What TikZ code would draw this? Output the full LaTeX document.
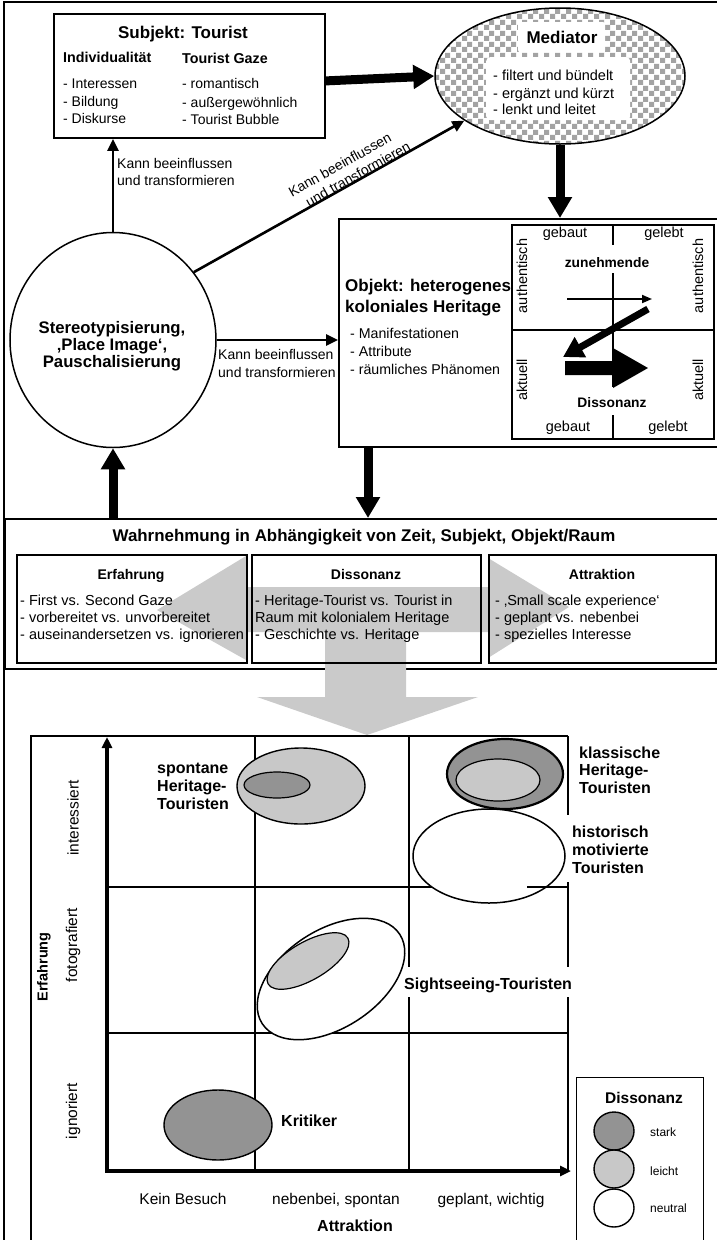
\documentclass[tikz,border=0pt]{standalone}
\usepackage{fontspec}
\setmainfont{Liberation Sans}
\usetikzlibrary{arrows.meta,shapes.geometric,patterns}
\newcommand\setfs[1]{\fontsize{#1}{#1}\selectfont}
\definecolor{darkfill}{HTML}{939393}
\definecolor{lightfill}{HTML}{C8C8C8}
\definecolor{flowgray}{HTML}{CACACA}
\definecolor{checkgray}{HTML}{A3A3A3}
% checkerboard fill for the mediator
\pgfdeclarepatternformonly{checker}{\pgfpointorigin}{\pgfpoint{11pt}{11pt}}{\pgfpoint{11pt}{11pt}}{%
  \pgfpathrectangle{\pgfpointorigin}{\pgfpoint{5.5pt}{5.5pt}}%
  \pgfpathrectangle{\pgfpoint{5.5pt}{5.5pt}}{\pgfpoint{5.5pt}{5.5pt}}%
  \pgfusepath{fill}}
\begin{document}
\begin{tikzpicture}[x=1pt,y=-1pt,
  frame/.style={line width=1.6pt},
  box/.style={draw,line width=1.8pt,anchor=north west,inner sep=0pt},
  bigarrow/.style={line width=9pt,-{Triangle[width=23pt,length=21pt]}},
  thinarrow/.style={line width=2.6pt,-{Triangle[width=11pt,length=12pt]}},
  axis/.style={line width=3.5pt,-{Triangle[width=10pt,length=11pt]}},
  gridline/.style={line width=1.3pt},
  txt/.style={inner sep=0pt,anchor=base west,font=\setfs{14}},
  ctxt/.style={inner sep=0pt,anchor=base,font=\setfs{14}},
  fsb/.style={font=\setfs{#1}\bfseries},
  fsr/.style={font=\setfs{#1}},
  blob/.style={ellipse,draw,inner sep=0pt,line width=1.4pt}
]
\useasboundingbox (0,0) rectangle (717,1240);
\clip (0,0) rectangle (717,1240);

% outer frame
\draw[frame] (4,2) rectangle (725,1250);

% ---------- subject ----------
\node[box,minimum width=271pt,minimum height=124pt] (subj) at (53,13) {};
\node[ctxt,fsb=17] (subjT) at (183,38) {Subjekt: Tourist};
\node[txt,fsb=14.3] (indT) at (63,62) {Individualität};
\node[txt,fsb=14.3] (gazeT) at (182,63) {Tourist Gaze};
\node[txt] (ind1) at (63,88) {- Interessen};
\node[txt] (ind2) at (63,106) {- Bildung};
\node[txt] (ind3) at (63,123) {- Diskurse};
\node[txt] (gaze1) at (182,88) {- romantisch};
\node[txt] (gaze2) at (182,107) {- außergewöhnlich};
\node[txt] (gaze3) at (182,124) {- Tourist Bubble};

% ---------- mediator ----------
\node[ellipse,draw,line width=1.5pt,minimum width=250pt,minimum height=136pt,inner sep=0pt,
      preaction={fill=white},pattern=checker,pattern color=checkgray] (med) at (560,76) {};
\node[fill=white,rounded corners=2pt,anchor=north west,minimum width=87pt,minimum height=30pt,inner sep=0pt] (medpatchA) at (518,22) {};
\node[fill=white,rounded corners=4pt,anchor=north west,minimum width=144pt,minimum height=63pt,inner sep=0pt] (medpatchB) at (486,57) {};
\node[ctxt,fsb=17] (medT) at (562,43) {Mediator};
\node[txt,fsr=14.5] (med1) at (493,80) {- filtert und bündelt};
\node[txt,fsr=14.5] (med2) at (493,98) {- ergänzt und kürzt};
\node[txt,fsr=14.5] (med3) at (493,114) {- lenkt und leitet};

% ---------- place image ----------
\node[ellipse,draw,line width=1.5pt,minimum width=206pt,minimum height=215pt,inner sep=0pt] (img) at (113,340) {};
\node[ctxt,fsb=16.7] (img1) at (112,333) {Stereotypisierung,};
\node[ctxt,fsb=16.7] (img2) at (112,350) {‚Place Image‘,};
\node[ctxt,fsb=16.7] (img3) at (112,367) {Pauschalisierung};

% ---------- object ----------
\node[box,minimum width=385pt,minimum height=228pt] (obj) at (338,218) {};
\node[txt,fsb=17] (objT1) at (345,291) {Objekt: heterogenes};
\node[txt,fsb=17] (objT2) at (345,312) {koloniales Heritage};
\node[txt,fsr=14.2] (obj1) at (350,338) {- Manifestationen};
\node[txt,fsr=14.2] (obj2) at (350,356) {- Attribute};
\node[txt,fsr=14.2] (obj3) at (350,374) {- räumliches Phänomen};

% quadrant scheme inside the object
\node[draw,line width=1.5pt,anchor=north west,minimum width=202pt,minimum height=214pt,inner sep=0pt] (quad) at (511,224) {};
\draw[line width=1.5pt] (511,330) -- (713,330);
\draw[line width=1.5pt] (613,224) -- (613,245) (613,273) -- (613,387) (613,415) -- (613,438);
\node[ctxt,fsr=14.5] (qgb1) at (565,237) {gebaut};
\node[ctxt,fsr=14.5] (qgl1) at (664,237) {gelebt};
\node[ctxt,fsr=14.5] (qgb2) at (568,431) {gebaut};
\node[ctxt,fsr=14.5] (qgl2) at (668,431) {gelebt};
\node[inner sep=0pt,fsr=14.5,rotate=90] (qau1) at (522,276) {authentisch};
\node[inner sep=0pt,fsr=14.5,rotate=90] (qau2) at (698,276) {authentisch};
\node[inner sep=0pt,fsr=14.5,rotate=90] (qak1) at (522,380) {aktuell};
\node[inner sep=0pt,fsr=14.5,rotate=90] (qak2) at (698,380) {aktuell};
\node[ctxt,fsb=13.8] (qzu) at (607,267) {zunehmende};
\node[ctxt,fsb=13.8] (qdi) at (612,407) {Dissonanz};
\coordinate (qa1s) at (567,299);
\coordinate (qa1e) at (652,299);
\draw[line width=1.8pt,-{Triangle[width=8pt,length=10pt]}] (qa1s) -- (qa1e);
\coordinate (qa2s) at (648,309);
\coordinate (qa2e) at (563,357);
\draw[line width=7pt,-{Triangle[width=22pt,length=20pt]}] (qa2s) -- (qa2e);
\fill (565,361) -- (613,361) -- (613,348) -- (648,368) -- (613,388) -- (613,375) -- (565,375) -- cycle;

% ---------- connectors of the upper part ----------
\draw[bigarrow] ([yshift=-5pt]subj.east) -- (med.west);
\draw[bigarrow] (med.south) -- (med.south |- obj.north);
\draw[thinarrow] (img.north) -- (img.north |- subj.south);
\node[txt] (lblA1) at (117,168) {Kann beeinflussen};
\node[txt] (lblA2) at (117,185) {und transformieren};
\draw[thinarrow] (img.east) -- (img.east -| obj.west);
\node[txt] (lblB1) at (218,359) {Kann beeinflussen};
\node[txt] (lblB2) at (218,377) {und transformieren};
\draw[thinarrow] (img.40) -- node[pos=0.6,sloped,above=-1pt,inner sep=0pt,align=left,
    font=\fontsize{14}{17}\selectfont] (lblC) {Kann beeinflussen\\\hspace*{10pt}und transformieren} (med.205);

% ---------- perception band ----------
\node[draw,line width=1.6pt,anchor=north west,minimum width=730pt,minimum height=150pt,inner sep=0pt] (band) at (4,518) {};
\coordinate (objout) at ([xshift=30pt]obj.south west);
\draw[bigarrow] (objout) -- (objout |- band.north);
\draw[bigarrow] (img.south |- band.north) -- (img.south);

% broad grey flow arrows
\fill[flowgray] (157,610) -- (246,556) -- (246,587) -- (488,587) -- (488,558) -- (569,607)
  -- (488,658) -- (488,632) -- (406,632) -- (406,697) -- (478,697) -- (367,735)
  -- (257,697) -- (325,697) -- (325,632) -- (246,632) -- (246,660) -- cycle;

\node[ctxt,fsb=16.9] (bandT) at (364,541) {Wahrnehmung in Abhängigkeit von Zeit, Subjekt, Objekt/Raum};
\node[draw,line width=1.6pt,anchor=north west,minimum width=230pt,minimum height=108pt,inner sep=0pt] (erf) at (16,554) {};
\node[draw,line width=1.6pt,anchor=north west,minimum width=229pt,minimum height=108pt,inner sep=0pt] (dis) at (251,554) {};
\node[draw,line width=1.6pt,anchor=north west,minimum width=227pt,minimum height=108pt,inner sep=0pt] (att) at (488,554) {};
\node[ctxt,fsb=14] (erfT) at (131,579) {Erfahrung};
\node[ctxt,fsb=14] (disT) at (366,579) {Dissonanz};
\node[ctxt,fsb=14] (attT) at (602,579) {Attraktion};
\node[txt,fsr=14.5] (erf1) at (20,605) {- First vs. Second Gaze};
\node[txt,fsr=14.5] (erf2) at (20,622) {- vorbereitet vs. unvorbereitet};
\node[txt,fsr=14.5] (erf3) at (20,639) {- auseinandersetzen vs. ignorieren};
\node[txt,fsr=14.5] (dis1) at (255,605) {- Heritage-Tourist vs. Tourist in};
\node[txt,fsr=14.5] (dis2) at (255,622) {Raum mit kolonialem Heritage};
\node[txt,fsr=14.5] (dis3) at (255,639) {- Geschichte vs. Heritage};
\node[txt,fsr=14.5] (att1) at (495,605) {- ‚Small scale experience‘};
\node[txt,fsr=14.5] (att2) at (495,622) {- geplant vs. nebenbei};
\node[txt,fsr=14.5] (att3) at (495,639) {- spezielles Interesse};

% ---------- typology chart ----------
\draw[gridline] (31,1250) -- (31,736) -- (568,736);
\draw[gridline] (255,736) -- (255,1171);
\draw[gridline] (409,736) -- (409,967) (409,997) -- (409,1171);
\draw[gridline] (568,736) -- (568,815) (568,882) -- (568,967) (568,997) -- (568,1171);
\draw[gridline] (107,887) -- (568,887);
\draw[gridline] (107,1033) -- (568,1033);
\coordinate (origin) at (107,1171);
\coordinate (ytip) at (107,737);
\coordinate (xtip) at (571,1171);
\draw[axis] ([yshift=-1.75pt]origin) -- (ytip);
\draw[axis] ([xshift=-1.75pt]origin) -- (xtip);

\node[blob,fill=lightfill,minimum width=128pt,minimum height=76pt] (spo) at (301,786) {};
\node[blob,fill=darkfill,line width=1.2pt,minimum width=66pt,minimum height=26pt] (spoIn) at (277,785) {};
\node[blob,fill=darkfill,line width=2.2pt,minimum width=116pt,minimum height=70pt] (kla) at (505,774) {};
\node[blob,fill=lightfill,line width=1.2pt,minimum width=84pt,minimum height=42pt] (klaIn) at (498,780) {};
\node[blob,fill=white,line width=1.5pt,minimum width=152pt,minimum height=94pt] (his) at (489,856) {};
\draw[gridline] (527,887) -- (568,887);
\node[blob,fill=white,line width=1.5pt,minimum width=164pt,minimum height=98pt,rotate=33] (sig) at (331,979) {};
\node[blob,fill=lightfill,line width=1.2pt,minimum width=92pt,minimum height=38pt,rotate=30] (sigIn) at (308,961) {};
\node[blob,fill=darkfill,minimum width=108pt,minimum height=70pt] (kri) at (218,1125) {};

\node[txt,fsb=16] (spoT1) at (157,773) {spontane};
\node[txt,fsb=16] (spoT2) at (157,791) {Heritage-};
\node[txt,fsb=16] (spoT3) at (157,809) {Touristen};
\node[txt,fsb=16] (klaT1) at (579,758) {klassische};
\node[txt,fsb=16] (klaT2) at (579,775) {Heritage-};
\node[txt,fsb=16] (klaT3) at (579,793) {Touristen};
\node[txt,fsb=16] (hisT1) at (572,837) {historisch};
\node[txt,fsb=16] (hisT2) at (572,855) {motivierte};
\node[txt,fsb=16] (hisT3) at (572,873) {Touristen};
\node[txt,fsb=16] (sigT) at (404,989) {Sightseeing-Touristen};
\node[txt,fsb=16] (kriT) at (281,1126) {Kritiker};

\node[inner sep=0pt,fsr=15.5,rotate=90] (yl1) at (73,818) {interessiert};
\node[inner sep=0pt,fsr=15.5,rotate=90] (yl2) at (73,945) {fotografiert};
\node[inner sep=0pt,fsr=15.5,rotate=90] (yl3) at (73,1111) {ignoriert};
\node[inner sep=0pt,fsb=14.5,rotate=90] (yT) at (44,967) {Erfahrung};
\node[ctxt,fsr=15.5] (xl1) at (183,1204) {Kein Besuch};
\node[ctxt,fsr=15.5] (xl2) at (336,1204) {nebenbei, spontan};
\node[ctxt,fsr=15.5] (xl3) at (491,1204) {geplant, wichtig};
\node[ctxt,fsb=16] (xT) at (355,1231) {Attraktion};

% legend
\node[draw,line width=1.4pt,anchor=north west,minimum width=127pt,minimum height=180pt,inner sep=0pt] (legend) at (576,1077) {};
\node[ctxt,fsb=15.5] (legT) at (644,1103) {Dissonanz};
\node[blob,fill=darkfill,minimum width=40pt,minimum height=38pt] (lgS) at (614,1131) {};
\node[blob,fill=lightfill,minimum width=40pt,minimum height=38pt] (lgL) at (614,1169) {};
\node[blob,fill=white,minimum width=40pt,minimum height=38pt] (lgN) at (614,1208) {};
\node[txt,fsr=12] (lgST) at (650,1136) {stark};
\node[txt,fsr=12] (lgLT) at (650,1175) {leicht};
\node[txt,fsr=12] (lgNT) at (650,1212) {neutral};
\end{tikzpicture}
\end{document}
